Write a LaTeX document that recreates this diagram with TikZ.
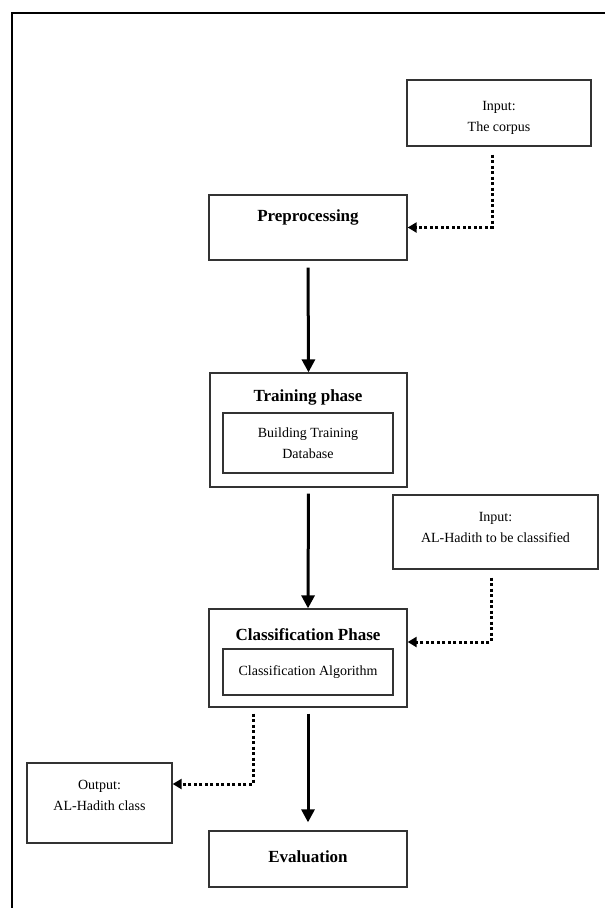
\documentclass[tikz,border=0pt]{standalone}
\usepackage{fontspec}
\setmainfont{Liberation Serif}
\usetikzlibrary{arrows.meta}
\tikzset{
    box/.style={draw=black!80, line width=1.3pt, inner sep=0pt, align=center, font=\fontsize{14}{21}\selectfont},
    title/.style={font=\fontsize{17}{20}\selectfont\bfseries},
    flow/.style={line width=3pt, -{Triangle[length=13pt,width=13pt]}},
    feed/.style={line width=3pt, dash pattern=on 3pt off 2.5pt, -{Triangle[length=9pt,width=10pt]}}
}
\begin{document}
\begin{tikzpicture}[x=1pt, y=-1pt]
    \useasboundingbox (0,0) rectangle (605,908);
    \draw[line width=1.5pt] (12,908) -- (12,13) -- (605,13);

    \node[box, minimum width=184pt, minimum height=66pt] (corpus) at (499,113) {};
    \node[box, minimum width=198pt, minimum height=65pt] (pre) at (308,227.5) {};
    \node[box, minimum width=197pt, minimum height=114pt] (train) at (308.5,430) {};
    \node[box, minimum width=170pt, minimum height=60pt] (traindb) at (308,443) {Building Training\\Database};
    \node[box, minimum width=205pt, minimum height=74pt] (hadith) at (495.5,532) {};
    \node[box, minimum width=198pt, minimum height=98pt] (class) at (308,658) {};
    \node[box, minimum width=170pt, minimum height=46pt] (algo) at (308,672) {Classification Algorithm};
    \node[box, minimum width=145pt, minimum height=80pt] (output) at (99.5,803) {};
    \node[box, minimum width=198pt, minimum height=56pt] (eval) at (308,859) {};

    \node[title] (pretext) at (308,217) {Preprocessing};
    \node[title] (traintext) at (308,397) {Training phase};
    \node[title] (classtext) at (308,635) {Classification Phase};
    \node[title] (evaltext) at (308,857) {Evaluation};
    \node[box, draw=none] (corpustext) at (499,118) {Input:\\The corpus};
    \node[box, draw=none] (hadithtext) at (495.5,527) {Input:\\AL-Hadith to be classified};
    \node[box, draw=none] (outputtext) at (99.5,795) {Output:\\AL-Hadith class};

    \draw[flow, shorten <=7pt] (pre.south) -- (train.north);
    \draw[flow, shorten <=6pt] (train.south) -- (class.north);
    \draw[flow, shorten <=6pt, shorten >=8pt] (class.south) -- (eval.north);

    \draw[feed, shorten <=8pt] ([xshift=-7pt]corpus.south) |- (pre.east);
    \draw[feed, shorten <=8pt] ([xshift=-4.5pt]hadith.south) |- ([yshift=16pt]class.east);
    \draw[feed, shorten <=6pt] ([xshift=-55pt]class.south) |- ([yshift=19pt]output.east);
\end{tikzpicture}
\end{document}
